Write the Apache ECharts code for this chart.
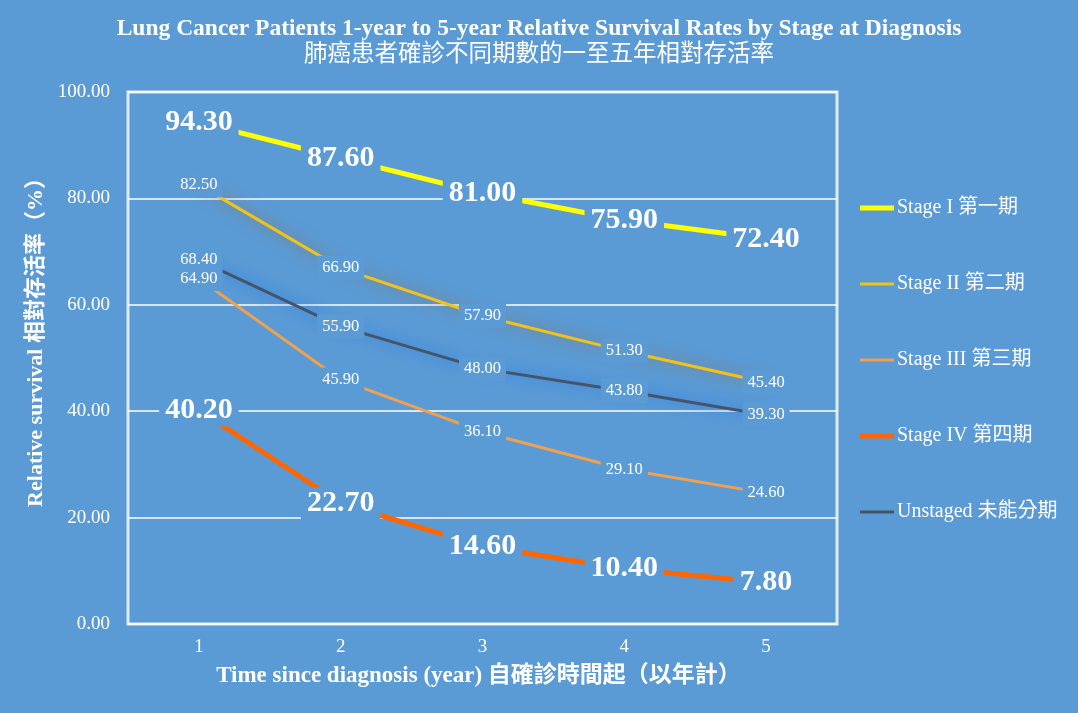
<!DOCTYPE html>
<html>
<head>
<meta charset="utf-8">
<script src="https://cdn.jsdelivr.net/npm/echarts@6/dist/echarts.min.js"></script>
<style>
  html, body { margin: 0; padding: 0; background: #5B9BD5; }
  #chart { width: 1078px; height: 713px; }
</style>
</head>
<body>
<div id="chart"></div>
<script>
// 數據
const years = ['1', '2', '3', '4', '5'];
const stage1 = [94.3, 87.6, 81.0, 75.9, 72.4];
const stage2 = [82.5, 66.9, 57.9, 51.3, 45.4];
const stage3 = [64.9, 45.9, 36.1, 29.1, 24.6];
const stage4 = [40.2, 22.7, 14.6, 10.4, 7.8];
const unstaged = [68.4, 55.9, 48.0, 43.8, 39.3];
const names = ['Stage I 第一期', 'Stage II 第二期', 'Stage III 第三期', 'Stage IV 第四期', 'Unstaged 未能分期'];

const BG = '#5B9BD5';
const SERIF = "'Liberation Serif', 'Times New Roman', 'Noto Sans CJK TC', serif";

// 每條線的樣式
const lines = [
  {data: stage1, color: '#FFFF00', width: 5, big: true},
  {data: stage2, color: '#F2C21A', width: 3, glow: 'rgba(150,100,40,0.8)'},
  {data: stage3, color: '#F0A050', width: 3},
  {data: stage4, color: '#FF6600', width: 5, big: true},
  {data: unstaged, color: '#44546A', width: 3, glow: 'rgba(20,110,240,0.9)'}
];

const series = [];
// 先畫線
lines.forEach((l, i) => {
  series.push({
    name: names[i],
    type: 'line',
    data: l.data,
    color: l.color,
    showSymbol: false,
    symbol: 'circle',
    z: 2,
    lineStyle: {
      color: l.color,
      width: l.width,
      shadowColor: l.glow || 'rgba(0,0,0,0)',
      shadowBlur: l.glow ? 15 : 0
    },
    itemStyle: {color: l.color}
  });
});
// 再畫數據標籤（背景蓋住線條）
lines.forEach((l, i) => {
  series.push({
    name: 'lbl' + i,
    type: 'scatter',
    data: l.data,
    symbolSize: 0,
    z: 10,
    silent: true,
    itemStyle: {opacity: 1},
    label: {
      show: true,
      position: 'inside',
      formatter: p => p.value.toFixed(2),
      color: '#FFFFFF',
      fontFamily: SERIF,
      fontSize: l.big ? 30 : 16.5,
      fontWeight: l.big ? 'bold' : 'normal',
      backgroundColor: BG,
      padding: l.big ? [1, 6] : [4, 5]
    }
  });
});

const chart = echarts.init(document.getElementById('chart'));
chart.setOption({
  backgroundColor: BG,
  animation: false,
  title: {
    text: 'Lung Cancer Patients 1-year to 5-year Relative Survival Rates by Stage at Diagnosis',
    subtext: '肺癌患者確診不同期數的一至五年相對存活率',
    left: 'center',
    top: 12,
    itemGap: 3,
    textStyle: {color: '#FFFFFF', fontFamily: SERIF, fontSize: 23.5, fontWeight: 'bold'},
    subtextStyle: {color: '#FFFFFF', fontFamily: SERIF, fontSize: 23.5}
  },
  legend: {
    orient: 'vertical',
    left: 860,
    top: 198,
    padding: 0,
    itemGap: 56,
    itemWidth: 34,
    itemHeight: 6,
    data: names.map((n, i) => ({
      name: n,
      icon: lines[i].width >= 5 ? 'path://M0,0H34V5H0Z' : 'path://M0,0H34V3H0Z'
    })),
    textStyle: {color: '#FFFFFF', fontFamily: SERIF, fontSize: 20, padding: [0, 0, 0, -2]}
  },
  grid: {
    left: 128,
    right: 241,
    top: 92,
    bottom: 89,
    show: true,
    borderColor: '#DDEBF7',
    borderWidth: 3,
    backgroundColor: 'transparent'
  },
  xAxis: {
    type: 'category',
    data: years,
    boundaryGap: true,
    axisLine: {show: false},
    axisTick: {show: false},
    axisLabel: {color: '#FFFFFF', fontFamily: SERIF, fontSize: 19, margin: 14},
    name: 'Time since diagnosis (year) 自確診時間起（以年計）',
    nameLocation: 'middle',
    nameGap: 41,
    nameTextStyle: {color: '#FFFFFF', fontFamily: SERIF, fontSize: 23, fontWeight: 'bold', padding: [0, 8, 0, 0]}
  },
  yAxis: {
    type: 'value',
    min: 0,
    max: 100,
    interval: 20,
    axisLine: {show: false},
    axisTick: {show: false},
    axisLabel: {color: '#FFFFFF', fontFamily: SERIF, fontSize: 19, margin: 18, formatter: v => v.toFixed(2)},
    splitLine: {lineStyle: {color: '#FFFFFF', width: 1.5}},
    name: 'Relative survival 相對存活率（%）',
    nameLocation: 'middle',
    nameGap: 80,
    nameTextStyle: {color: '#FFFFFF', fontFamily: SERIF, fontSize: 22, fontWeight: 'bold', padding: [0, 0, 0, 42]}
  },
  series: series
});
</script>
</body>
</html>
